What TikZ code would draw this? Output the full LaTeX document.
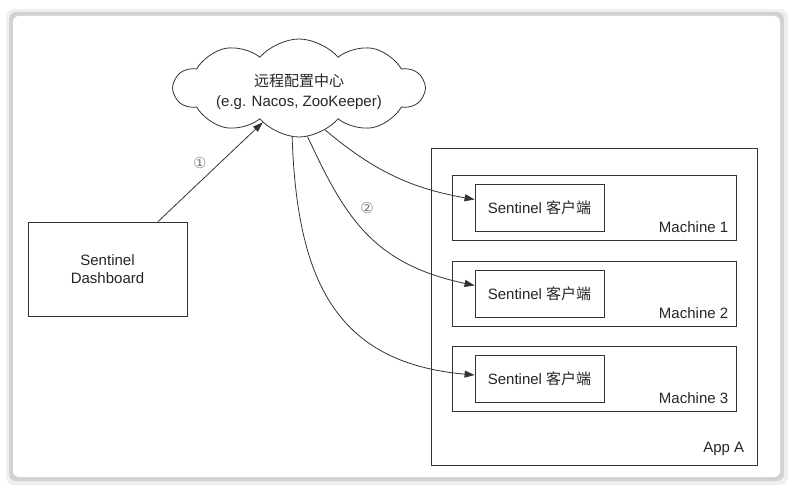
\documentclass[tikz,border=0pt]{standalone}
\usepackage{fontspec}
\setmainfont{Liberation Sans}
\newfontfamily\cjk{Noto Sans CJK SC}
\newfontfamily\symfont{DejaVu Sans}
\usetikzlibrary{arrows.meta,shapes.symbols}

\begin{document}
\begin{tikzpicture}[
  x=1pt, y=-1pt,
  font=\fontsize{15}{18}\selectfont, >={Triangle[length=10pt,width=7pt]},
  box/.style={draw=black!80,line width=0.8pt,text=black!85,align=center,inner sep=2pt},
  dashbox/.style={box,minimum width=159pt,minimum height=94pt},
  cloudbox/.style={box,cloud,cloud puffs=10,cloud puff arc=100,cloud ignores aspect,
                   minimum width=250pt,minimum height=98pt},
  appbox/.style={box,minimum width=326pt,minimum height=317pt},
  machbox/.style={box,minimum width=284pt,minimum height=65pt},
  clientbox/.style={box,minimum width=129pt,minimum height=47pt},
  tag/.style={anchor=base east,inner sep=0pt,text=black!85},
  num/.style={text=black!50,font=\symfont\fontsize{15}{15}\selectfont},
  flow/.style={->,draw=black!80,line width=0.8pt},
]
\useasboundingbox (0,0) rectangle (793,494);
% page frame with shadow
\fill[gray!12,rounded corners=8pt] (6,9) rectangle (788,485);
\fill[gray!35,rounded corners=7pt] (9,12) rectangle (784,481);
\fill[white,rounded corners=6pt] (13,16) rectangle (780,477);

\node[cloudbox] (cfg) at (299,88) {};
\node[align=center,text=black!85,font=\fontsize{15}{20}\selectfont] (cfgtxt) at (299,92)
  {{\cjk 远程配置中心}\\(e.g. Nacos, ZooKeeper)};
\node[dashbox] (dash) at (107.5,269) {Sentinel\\Dashboard};
\node[appbox] (app) at (594,306.5) {};
\node[tag] (appA) at ([xshift=-13pt,yshift=13pt]app.south east) {App A};
\foreach \i/\y in {1/207.5,2/293.5,3/379} {
  \node[machbox] (m\i) at (594,\y) {};
  \node[clientbox] (c\i) at (539.5,\y) {Sentinel {\cjk 客户端}};
  \node[tag] (t\i) at ([xshift=-8pt,yshift=8pt]m\i.south east) {Machine \i};
}

\draw[flow] ([xshift=50.5pt]dash.north) -- (cfg) node[num,midway,above left=0pt] (n1) {①};
\draw[flow] (cfg.-58) to[out=-40,in=170] ([yshift=8pt]c1.west);
\draw[flow] (cfg.-80) to[out=-65,in=168,out looseness=1.0,in looseness=1.2] ([yshift=8pt]c2.west);
\draw[flow] (cfg.-98) to[out=-88,in=175,out looseness=1.2,in looseness=1.2] ([yshift=4pt]c3.west);
\node[num] (n2) at (367,208) {②};
\end{tikzpicture}
\end{document}
